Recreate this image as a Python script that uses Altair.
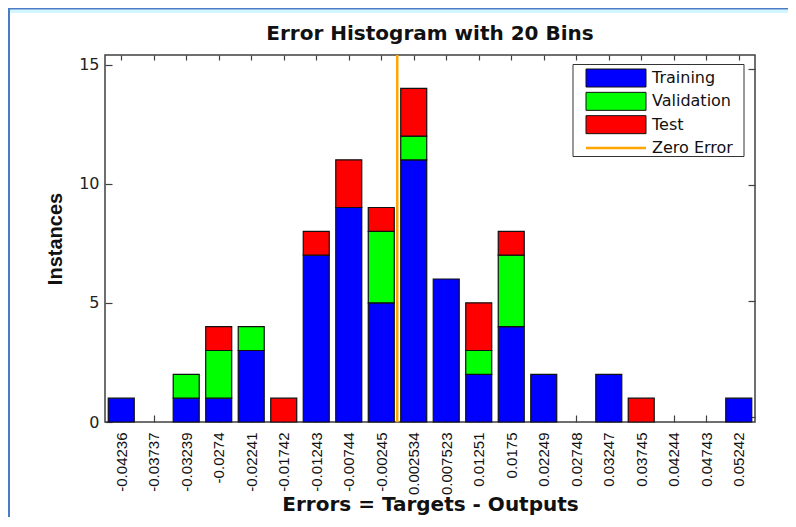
import altair as alt
import pandas as pd

# ---- data ----
centers = [-0.04236, -0.03737, -0.03239, -0.0274, -0.02241, -0.01742, -0.01243,
           -0.00744, -0.00245, 0.002534, 0.007523, 0.01251, 0.0175, 0.02249,
           0.02748, 0.03247, 0.03745, 0.04244, 0.04743, 0.05242]
training = [1, 0, 1, 1, 3, 0, 7, 9, 5, 11, 6, 2, 4, 2, 0, 2, 0, 0, 0, 1]
validation = [0, 0, 1, 2, 1, 0, 0, 0, 3, 1, 0, 1, 3, 0, 0, 0, 0, 0, 0, 0]
test = [0, 0, 0, 1, 0, 1, 1, 2, 1, 2, 0, 2, 1, 0, 0, 0, 1, 0, 0, 0]
sets = ["Training", "Validation", "Test"]
legend_entries = ["Training", "Validation", "Test", "Zero Error"]
set_colors = ["#0000ff", "#00ff00", "#ff0000"]
zero_color = "#ffa500"
zero_error = [0.0]
y_max = 15.4
y_ticks = [0, 5, 10, 15]

# ---- build tables ----
n = len(centers)
step = (centers[-1] - centers[0]) / (n - 1)
rows = []
for i, c in enumerate(centers):
    base = 0
    for k, (name, vals) in enumerate(zip(sets, [training, validation, test])):
        v = vals[i]
        if v > 0:
            rows.append({"center": c, "lo": c - 0.4 * step, "hi": c + 0.4 * step,
                         "set": name, "count": v, "y0": base, "y1": base + v})
        base += v
df = pd.DataFrame(rows)
zero_df = pd.DataFrame({"zero": zero_error})
leg_df = pd.DataFrame({"entry": legend_entries})
one = pd.DataFrame({"k": [0]})

W, H = 650, 367
AX = "#404040"

x_scale = alt.Scale(domain=[centers[0] - step / 2, centers[-1] + step / 2], nice=False, zero=False)
y_scale = alt.Scale(domain=[0, y_max], nice=False, zero=True)
color_scale = alt.Scale(domain=legend_entries, range=set_colors + [zero_color])

bars = alt.Chart(df).mark_bar(stroke="#111111", strokeWidth=1.2, opacity=1).encode(
    x=alt.X("lo:Q", scale=x_scale, axis=alt.Axis(
        orient="bottom", values=centers,
        labelExpr="replace(format(datum.value, '.4~g'), '\u2212', '-')",
        labelAngle=-90, labelFont="Liberation Sans", labelFontSize=15, labelColor="#111111",
        labelPadding=10, labelOverlap=False, labelFlush=False,
        tickSize=7, offset=-7, domain=False, grid=False, tickColor=AX, tickWidth=1.2,
        title="Errors = Targets - Outputs", titleFont="DejaVu Sans", titleFontSize=20,
        titleFontWeight="bold", titleX=W / 2, titleY=95.5, titleAlign="center",
        titleBaseline="alphabetic", titleColor="#111111")),
    x2="hi:Q",
    y=alt.Y("y1:Q", scale=y_scale, axis=alt.Axis(
        orient="left", values=y_ticks, labelFont="DejaVu Sans", labelFontSize=16,
        labelColor="#222222", labelPadding=6, tickSize=7, offset=-7, domain=False,
        grid=False, tickColor=AX, tickWidth=1.2,
        title="Instances", titleFont="Liberation Sans", titleFontSize=20,
        titleFontWeight="bold", titleAngle=-90, titleX=-51, titleY=H / 2,
        titleAlign="center", titleBaseline="alphabetic", titleColor="#111111")),
    y2="y0:Q",
    fill=alt.Fill("set:N", scale=color_scale, legend=None),
)

right = alt.Chart(df).mark_bar(opacity=0).encode(
    x=alt.X("lo:Q", scale=x_scale, axis=None),
    x2="hi:Q",
    y=alt.Y("y1:Q", scale=y_scale, axis=alt.Axis(
        orient="right", values=y_ticks, labels=False, tickSize=7, offset=-7,
        domain=False, grid=False, tickColor=AX, tickWidth=1.2, title=None,
        minExtent=0)),
)

zero = alt.Chart(zero_df).mark_rule(color=zero_color, strokeWidth=2.5).encode(
    x=alt.X("zero:Q", scale=x_scale, axis=alt.Axis(
        orient="top", values=centers, labels=False, tickSize=5, offset=-5,
        domain=False, grid=False, tickColor=AX, tickWidth=1.2, title=None,
        minExtent=0)),
)

leg_y = alt.Y("entry:N", scale=alt.Scale(type="point", domain=legend_entries,
                                         range=[23, 93], padding=0), axis=None)

box = alt.Chart(one).mark_rect(
    fill="white", stroke="#333333", strokeWidth=1).encode(
    x=alt.value(468), x2=alt.value(639), y=alt.value(9.5), y2=alt.value(101.5))

swatches = alt.Chart(leg_df).transform_filter(alt.datum.entry != "Zero Error").mark_point(
    shape="M-1.5,-0.45H1.5V0.45H-1.5Z", size=1600, filled=True,
    stroke="#111111", strokeWidth=1, opacity=1).encode(
    x=alt.value(511), y=leg_y,
    fill=alt.Fill("entry:N", scale=color_scale, legend=None))

zero_sw = alt.Chart(leg_df).transform_filter(alt.datum.entry == "Zero Error").mark_rule(
    color=zero_color, strokeWidth=2.5).encode(
    x=alt.value(481), x2=alt.value(541), y=leg_y)

labels = alt.Chart(leg_df).mark_text(
    align="left", baseline="middle", font="DejaVu Sans", fontSize=16, color="#111111").encode(
    x=alt.value(547), y=leg_y, text="entry:N")

# window frame of the original screenshot (decoration, top and left edges)
frame_band = alt.Chart(one).mark_rect(fill="#d2f6fd", stroke=None).encode(
    x=alt.value(-96), x2=alt.value(683), y=alt.value(-45.5), y2=alt.value(-42))
frame_top = alt.Chart(one).mark_rule(color="#4a7cc6", strokeWidth=2).encode(
    x=alt.value(-97), x2=alt.value(683), y=alt.value(-46.5))
frame_left = alt.Chart(one).mark_rule(color="#4a7cc6", strokeWidth=2).encode(
    x=alt.value(-96), y=alt.value(-47), y2=alt.value(462))

chart = alt.layer(frame_band, frame_top, frame_left, bars, right, zero, box, swatches,
                  zero_sw, labels).resolve_scale(
    y="independent").resolve_axis(x="independent", y="independent").properties(
    width=W, height=H,
    title=alt.TitleParams("Error Histogram with 20 Bins", font="DejaVu Sans", fontSize=20,
                          fontWeight="bold", anchor="middle", baseline="alphabetic",
                          offset=13, dy=66, color="#111111"),
    autosize=alt.AutoSizeParams(type="none"),
    padding={"left": 97, "top": 47, "right": 33, "bottom": 95},
).configure_view(stroke=AX, strokeWidth=1.5)

chart.save("out.html", embed_options={"renderer": "svg", "actions": False})
